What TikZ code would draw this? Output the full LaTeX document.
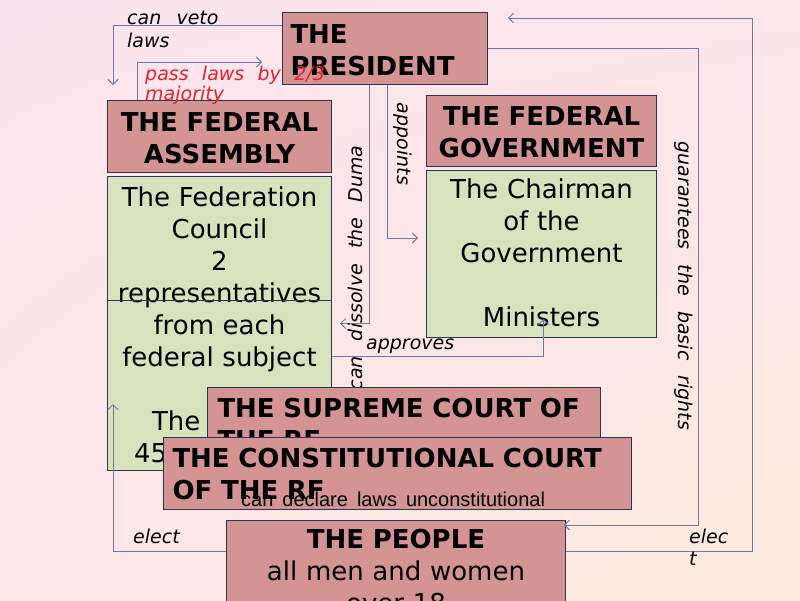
\documentclass[tikz,border=0pt]{standalone}
\usepackage{fontspec}
\setmainfont{DejaVu Sans}
\newfontfamily\declfont{Liberation Sans}
\usetikzlibrary{arrows.meta,positioning,shadings}
\definecolor{bgpink}{HTML}{FCE4EE}
\definecolor{bgpeach}{HTML}{FCEBDC}
\definecolor{rosefill}{HTML}{D49494}
\definecolor{greenfill}{HTML}{D6E4BD}
\definecolor{boxline}{HTML}{2E3552}
\definecolor{linkline}{HTML}{6B7CA3}
\definecolor{passred}{HTML}{E3222C}

\begin{document}
\begin{tikzpicture}[x=1pt,y=-1pt,>={Straight Barb[length=5pt,width=10pt]},
  box/.style={draw=boxline,line width=1pt,anchor=north west,inner sep=0pt,
    font=\fontsize{26}{32}\selectfont},
  head/.style={box,fill=rosefill,font=\bfseries\fontsize{26}{32}\selectfont},
  body/.style={box,fill=greenfill,align=center},
  link/.style={draw=linkline,line width=0.9pt},
  note/.style={inner sep=0pt,font={\itshape\fontsize{19}{23}\selectfont\spaceskip=0.8em\relax}},
  wide/.style={execute at begin node={\spaceskip=#1\relax}}]
\useasboundingbox (0,0) rectangle (800,600);
\clip (0,0) rectangle (800,600);
\shade[upper left=bgpink,upper right=bgpink!85!bgpeach,lower left=bgpink!65!bgpeach,
  lower right=bgpeach] (0,0) rectangle (800,600);

\node[head,align=left,inner xsep=8pt,text width=189pt,text height=31pt,text depth=41pt]
  (pres) at (282,12) {THE\\PRESIDENT};
\node[head,align=center,text width=224pt,text height=31pt,text depth=41pt]
  (fa) at (107,100) {THE FEDERAL\\ASSEMBLY};
\node[body,text width=224pt,text height=30pt,text depth=264pt] (fabody) at (107,176)
  {The Federation\\Council\\2\\representatives\\from each\\federal subject\\\mbox{}\\
   The\phantom{ Duma}\\45\phantom{0 deputies}};
\node[head,align=center,text width=230pt,text height=30pt,text depth=41pt]
  (fg) at (426,95) {THE FEDERAL\\GOVERNMENT};
\node[body,text width=230pt,text height=28pt,text depth=139pt] (fgbody) at (426,170)
  {The Chairman\\of the\\Government\\\mbox{}\\Ministers};
\node[box,fill=rosefill,align=center,text width=339pt,text height=28pt,text depth=62pt]
  (people) at (226,520) {\textbf{THE PEOPLE}\\all men and women\\over 18};
\draw[boxline,line width=1pt] ([yshift=-124pt]fabody.north west) -- ([yshift=-124pt]fabody.north east);

\draw[link,->] ([yshift=-13pt]pres.north west) -| ([xshift=6pt,yshift=15pt]fa.north west);
\draw[link,->] ([xshift=30pt]fa.north west) |- ([xshift=-20pt,yshift=-50pt]pres.north west);
\draw[link,->] ([xshift=87pt]pres.south west) |- ([xshift=8pt]fabody.east);
\draw[link,->] ([xshift=105pt]pres.south west) |- ([xshift=-8pt,yshift=16pt]fgbody.west);
\draw[link,->] ([yshift=-33pt]fabody.east) -| ([xshift=2pt,yshift=19pt]fgbody.south);
\draw[link,->] (pres.east) -- ++(210,0) |- ([xshift=-2pt,yshift=-5pt]people.north east);
\draw[link,->] ([yshift=-31pt]people.north east) -- ++(186,0) |- ([xshift=20pt,yshift=-6pt]pres.north east);
\draw[link,->] ([yshift=-31pt]people.north west) -| ([xshift=6pt,yshift=67pt]fabody.south west);

\node[note,wide=0.8em,anchor=base west,text width=110pt,align=left] (veto) at (127,24) {can veto\\laws};
\node[note,wide=0.7em,anchor=base west,text width=200pt,align=left,text=passred,
  font={\itshape\fontsize{19}{20}\selectfont}] (pass) at (145,80)
  {pass laws by 2/3\\majority};
\node[note,rotate=90] (dissolve) at (355,268) {can dissolve the Duma};
\node[note,rotate=-90] (appoints) at (403,144) {appoints};
\node[note,anchor=base west] (approves) at (366,349) {approves};
\node[note,rotate=-90] (rights) at (684,286) {guarantees the basic rights};
\node[note,anchor=base west] (electl) at (133,543) {elect};
\node[note,anchor=base west,text width=50pt,align=left,
  font={\itshape\fontsize{19}{22}\selectfont}] (electr) at (689,543) {elec\\t};

\node[head,align=left,inner xsep=10pt,text width=373pt,text height=30pt,text depth=23pt]
  (supreme) at (207,387) {THE SUPREME COURT OF\\THE RF};
\node[head,align=left,inner xsep=9pt,text width=450pt,text height=30pt,text depth=42pt]
  (const) at (163,437) {THE CONSTITUTIONAL COURT\\OF THE RF};
\node[inner sep=0pt,anchor=base west,font={\declfont\fontsize{20}{24}\selectfont\spaceskip=0.45em\relax}]
  (declare) at (241,506) {can declare laws unconstitutional};
\end{tikzpicture}
\end{document}
